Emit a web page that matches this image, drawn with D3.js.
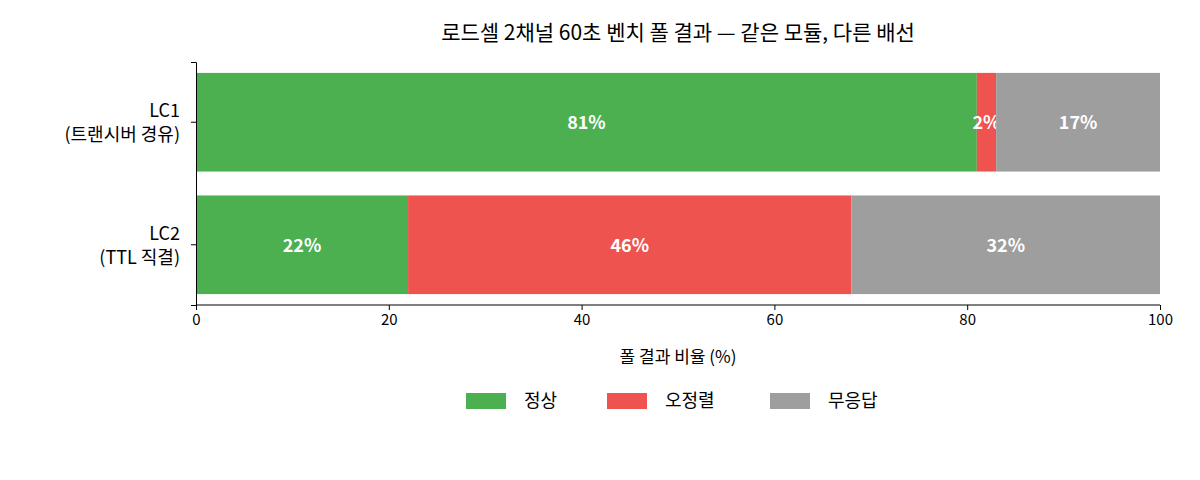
<!DOCTYPE html>
<html><head><meta charset="utf-8">
<script src="https://cdn.jsdelivr.net/npm/d3@7"></script>
<style>body{margin:0;background:#fff}text{font-family:"Noto Sans CJK KR","Noto Sans",sans-serif}</style>
</head><body><svg id="chart" width="1200" height="480"></svg>
<script>
const channels = ["LC1", "LC2"];
const channelLabels = [["LC1", "(트랜시버 경유)"], ["LC2", "(TTL 직결)"]];
const seriesNames = ["정상", "오정렬", "무응답"];
const seriesColors = ["#4caf50", "#ef5350", "#9e9e9e"];
const normal = [81, 22];
const misaligned = [2, 46];
const noResponse = [17, 32];
const xTicks = [0, 20, 40, 60, 80, 100];

const svg = d3.select("#chart");
const margin = {left: 196, right: 40, top: 62, bottom: 175};
const x = d3.scaleLinear().domain([0, 100]).range([margin.left, 1160]);
const y = d3.scaleBand().domain(channels).range([margin.top, 305]).paddingInner(0.195).paddingOuter(0.089);

const rows = channels.map(function(c, i) {
    return {channel: c, values: [normal[i], misaligned[i], noResponse[i]]};
});

svg.append("text").attr("x", 678).attr("y", 40).attr("text-anchor", "middle")
    .attr("font-size", 21).text("로드셀 2채널 60초 벤치 폴 결과 — 같은 모듈, 다른 배선");

rows.forEach(function(row) {
    let start = 0;
    row.values.forEach(function(v, j) {
        svg.append("rect").attr("x", x(start)).attr("y", y(row.channel))
            .attr("width", x(start + v) - x(start)).attr("height", y.bandwidth())
            .attr("fill", seriesColors[j]);
        svg.append("text").attr("x", x(start + v / 2)).attr("y", y(row.channel) + y.bandwidth() / 2 + 7)
            .attr("text-anchor", "middle").attr("fill", "#fff").attr("font-weight", "bold")
            .attr("font-size", 18).text(v + "%");
        start += v;
    });
});

const xAxis = svg.append("g").attr("transform", "translate(0,305)")
    .call(d3.axisBottom(x).tickValues(xTicks).tickSize(5).tickPadding(4));
const yAxis = svg.append("g").attr("transform", "translate(196,0)")
    .call(d3.axisLeft(y).tickSize(5).tickFormat(""));
[xAxis, yAxis].forEach(function(a) {
    a.selectAll("path,line").attr("stroke", "#000");
    a.selectAll("text").attr("font-size", 15).attr("fill", "#000");
});
xAxis.select(".domain").attr("d", "M196,0H1160");

channels.forEach(function(c, i) {
    const t = svg.append("text").attr("text-anchor", "end").attr("font-size", 18)
        .attr("y", y(c) + y.bandwidth() / 2 - 5);
    channelLabels[i].forEach(function(line, k) {
        t.append("tspan").attr("x", 180).attr("dy", k === 0 ? 0 : 24).text(line);
    });
});

svg.append("text").attr("x", 678).attr("y", 363).attr("text-anchor", "middle")
    .attr("font-size", 17).text("폴 결과 비율 (%)");

const legendX = [466, 607, 770];
seriesNames.forEach(function(name, i) {
    svg.append("rect").attr("x", legendX[i]).attr("y", 393).attr("width", 40).attr("height", 16)
        .attr("fill", seriesColors[i]);
    svg.append("text").attr("x", legendX[i] + 58).attr("y", 407).attr("font-size", 18).text(name);
});
</script></body></html>
